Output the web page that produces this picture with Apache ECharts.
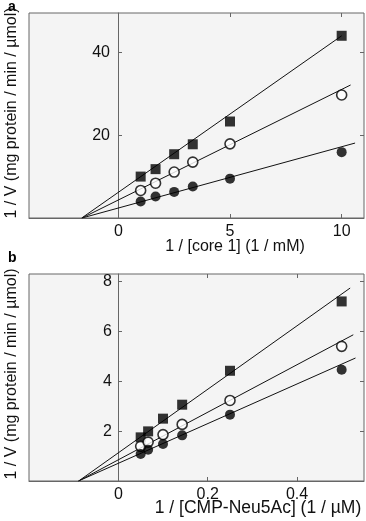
<!DOCTYPE html>
<html>
<head>
<meta charset="utf-8">
<script src="https://cdn.jsdelivr.net/npm/echarts@6/dist/echarts.min.js"></script>
<style>
  html, body { margin: 0; padding: 0; background: #fff; }
  #chart { width: 366px; height: 521px; }
</style>
</head>
<body>
<div id="chart"></div>
<script>
// panel a : 1/[core 1]
var aX = [1, 1.667, 2.5, 3.333, 5, 10];
var aSquare = [10.0, 11.8, 15.4, 17.8, 23.3, 44.0];
var aOpen = [6.65, 8.4, 11.1, 13.5, 17.9, 29.7];
var aFilled = [4.0, 5.2, 6.3, 7.6, 9.5, 15.9];
var aFitSlope = [3.78, 2.67, 1.48];
var aFitIntercept = [6.2, 4.35, 2.41];
var aFitEnd = [10, 10.4, 10.6];
var aXTicks = [0, 5, 10];
var aYTicks = [20, 40];

// panel b : 1/[CMP-Neu5Ac]
var bX = [0.05, 0.0667, 0.1, 0.1429, 0.25, 0.5];
var bSquare = [1.75, 1.99, 2.50, 3.06, 4.42, 7.20];
var bOpen = [1.39, 1.56, 1.86, 2.27, 3.23, 5.40];
var bFilled = [1.08, 1.25, 1.48, 1.83, 2.66, 4.46];
var bFitSlope = [12.73, 9.53, 7.95];
var bFitIntercept = [1.13, 0.85, 0.71];
var bFitEnd = [0.519, 0.526, 0.531];
var bXTicks = [0, 0.2, 0.4];
var bYTicks = [2, 4, 6, 8];

var chart = echarts.init(document.getElementById('chart'), null, {renderer: 'canvas'});

var font = 'Liberation Sans, Arial, sans-serif';
var gray = '#666';
var gridLeft = 29, gridWidth = 335;

function pairs(xs, ys) {
    return xs.map(function (x, i) { return [x, ys[i]]; });
}

// straight fit line from the x-intercept up to its end
function fitLine(slope, intercept, end) {
    var x0 = -intercept / slope;
    return [[x0, 0], [end, slope * end + intercept]];
}

function mainX(grid, min, max, ticks) {
    return {
        type: 'value', gridIndex: grid, min: min, max: max, position: 'bottom',
        splitLine: {show: false},
        axisLine: {show: true, onZero: false, lineStyle: {color: gray}},
        axisTick: {show: true, inside: true, length: 4, customValues: ticks, lineStyle: {color: gray}},
        axisLabel: {customValues: ticks, color: '#111', fontSize: 16, fontFamily: font, margin: 6}
    };
}

function topX(grid, min, max, ticks) {
    return {
        type: 'value', gridIndex: grid, min: min, max: max, position: 'top',
        splitLine: {show: false},
        axisLine: {show: false, onZero: false},
        axisTick: {show: true, inside: true, length: 4, customValues: ticks, lineStyle: {color: gray}},
        axisLabel: {show: false}
    };
}

// y axis drawn at x = 0 inside the box (offset from the left edge)
function mainY(grid, max, ticks, margin, xmin, xmax) {
    var shift = Math.round(gridWidth * (0 - xmin) / (xmax - xmin));
    return {
        type: 'value', gridIndex: grid, min: 0, max: max, position: 'left', offset: -shift,
        splitLine: {show: false},
        axisLine: {show: true, onZero: false, lineStyle: {color: gray}},
        axisTick: {show: true, inside: true, length: 4, customValues: ticks, lineStyle: {color: gray}},
        axisLabel: {customValues: ticks, color: '#111', fontSize: 16, fontFamily: font, margin: margin}
    };
}

function rightY(grid, max, ticks) {
    return {
        type: 'value', gridIndex: grid, min: 0, max: max, position: 'right',
        splitLine: {show: false},
        axisLine: {show: false, onZero: false},
        axisTick: {show: true, inside: true, length: 4, customValues: ticks, lineStyle: {color: gray}},
        axisLabel: {show: false}
    };
}

function markers(xi, yi, xs, sq, op, fi) {
    return [
        {type: 'scatter', xAxisIndex: xi, yAxisIndex: yi, symbol: 'rect', symbolSize: 10,
            itemStyle: {color: '#000'}, data: pairs(xs, sq), z: 5},
        {type: 'scatter', xAxisIndex: xi, yAxisIndex: yi, symbol: 'circle', symbolSize: 10,
            itemStyle: {color: '#fff', borderColor: '#000', borderWidth: 1.6}, data: pairs(xs, op), z: 5},
        {type: 'scatter', xAxisIndex: xi, yAxisIndex: yi, symbol: 'circle', symbolSize: 10,
            itemStyle: {color: '#000'}, data: pairs(xs, fi), z: 5}
    ];
}

function fits(xi, yi, slopes, intercepts, ends) {
    return slopes.map(function (s, i) {
        return {
            type: 'line', xAxisIndex: xi, yAxisIndex: yi, symbol: 'none', silent: true,
            lineStyle: {color: '#111', width: 1}, z: 3,
            data: fitLine(s, intercepts[i], ends[i])
        };
    });
}

var series = []
    .concat(fits(0, 0, aFitSlope, aFitIntercept, aFitEnd))
    .concat(markers(0, 0, aX, aSquare, aOpen, aFilled))
    .concat(fits(2, 2, bFitSlope, bFitIntercept, bFitEnd))
    .concat(markers(2, 2, bX, bSquare, bOpen, bFilled));

var textStyle = {fill: '#111', fontSize: 16, fontFamily: font};

chart.setOption({
    animation: false,
    backgroundColor: '#fff',
    grid: [
        {left: gridLeft, top: 13, width: gridWidth, height: 205, show: true, backgroundColor: '#f4f4f4',
            borderColor: gray, borderWidth: 1},
        {left: gridLeft, top: 274, width: gridWidth, height: 207, show: true, backgroundColor: '#f4f4f4',
            borderColor: gray, borderWidth: 1}
    ],
    xAxis: [
        mainX(0, -4, 11, aXTicks),
        topX(0, -4, 11, aXTicks),
        mainX(1, -0.2, 0.55, bXTicks),
        topX(1, -0.2, 0.55, bXTicks)
    ],
    yAxis: [
        mainY(0, 49.5, aYTicks, 8, -4, 11),
        rightY(0, 49.5, aYTicks),
        mainY(1, 8.3, bYTicks, 6, -0.2, 0.55),
        rightY(1, 8.3, bYTicks)
    ],
    series: series,
    graphic: [
        {type: 'text', left: 8, top: 0, style: {text: 'a', fill: '#000', fontSize: 14, fontWeight: 'bold', fontFamily: font}},
        {type: 'text', left: 8, top: 251, style: {text: 'b', fill: '#000', fontSize: 14, fontWeight: 'bold', fontFamily: font}},
        {type: 'text', x: 235, y: 247, style: Object.assign({text: '1 / [core 1] (1 / mM)', align: 'center', verticalAlign: 'middle'}, textStyle)},
        {type: 'text', x: 258, y: 508, style: Object.assign({}, textStyle, {text: '1 / [CMP-Neu5Ac] (1 / \u00b5M)', align: 'center', verticalAlign: 'middle', fontSize: 17.5})},
        {type: 'text', x: 12, y: 113, rotation: Math.PI / 2, style: Object.assign({text: '1 / V (mg protein / min / \u00b5mol)', align: 'center', verticalAlign: 'middle'}, textStyle)},
        {type: 'text', x: 12, y: 374, rotation: Math.PI / 2, style: Object.assign({text: '1 / V (mg protein / min / \u00b5mol)', align: 'center', verticalAlign: 'middle'}, textStyle)}
    ]
});
</script>
</body>
</html>
